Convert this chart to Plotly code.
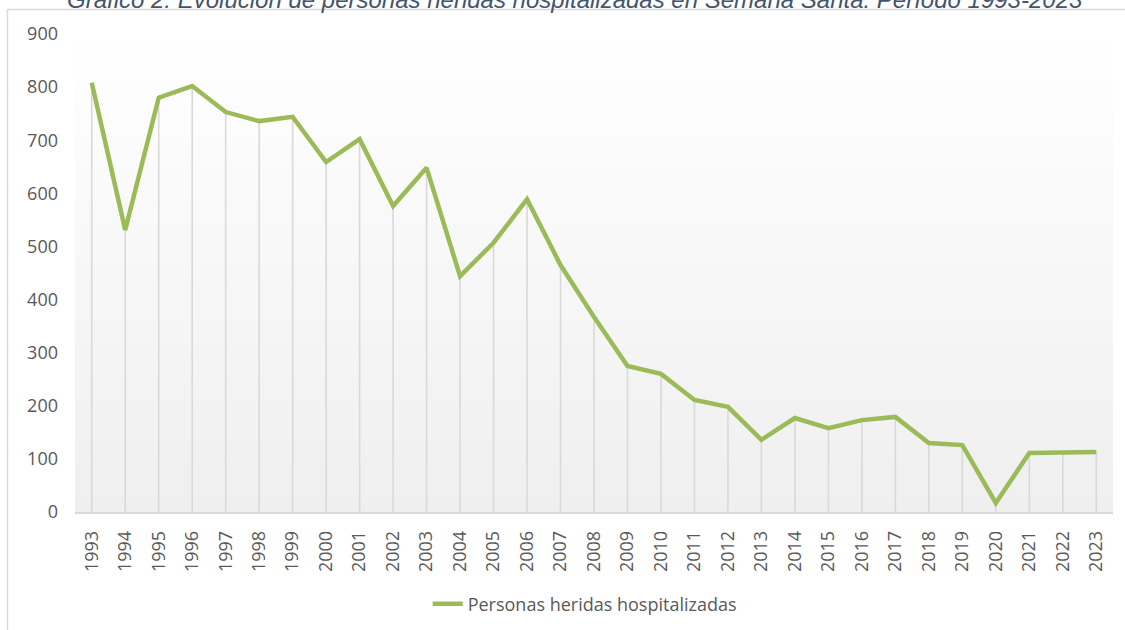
import plotly.graph_objects as go

# ---- data ----
years = [1993, 1994, 1995, 1996, 1997, 1998, 1999, 2000, 2001, 2002,
         2003, 2004, 2005, 2006, 2007, 2008, 2009, 2010, 2011, 2012,
         2013, 2014, 2015, 2016, 2017, 2018, 2019, 2020, 2021, 2022, 2023]
heridos = [808, 531, 780, 802, 753, 736, 744, 659, 702, 576,
           648, 444, 507, 589, 465, 367, 275, 260, 211, 198,
           136, 177, 158, 173, 179, 130, 126, 17, 111, 111, 113]
year_labels = [str(y) for y in years]
y_ticks = [0, 100, 200, 300, 400, 500, 600, 700, 800, 900]
series_name = "Personas heridas hospitalizadas"
title_text = "Gráfico 2: Evolución de personas heridas hospitalizadas en Semana Santa. Período 1993-2023"

# ---- layout geometry ----
W, H = 1125, 630
L, R, T, B = 75, 12, 34, 118
pw, ph = W - L - R, H - T - B

def px_x(px):
    return (px - L) / pw

def px_y(py):
    return (H - B - py) / ph

GREEN = "#9BBB59"
GRID = "#D9D9D9"
TXT = "#595959"

fig = go.Figure()

# drop lines (vertical lines from each point down to the axis)
fig.add_trace(go.Scatter(
    x=years, y=heridos, mode="markers",
    marker=dict(size=1, opacity=0),
    error_y=dict(type="data", symmetric=False,
                 array=[0] * len(heridos), arrayminus=heridos,
                 width=0, thickness=1.6, color=GRID),
    showlegend=False, hoverinfo="skip",
))

# main line
fig.add_trace(go.Scatter(
    x=years, y=heridos, mode="lines", name=series_name,
    line=dict(color=GREEN, width=4.5),
))

shapes = []
# gradient background of plot area (white at top -> light grey at bottom)
nb = 40
top_c, bot_c = (255, 255, 255), (239, 239, 239)
for i in range(nb):
    f0 = i / nb
    f1 = (i + 1) / nb
    fm = (i + 0.5) / nb
    c = tuple(round(top_c[k] + (bot_c[k] - top_c[k]) * fm) for k in range(3))
    shapes.append(dict(
        type="rect", xref="paper", yref="paper",
        x0=0, x1=1, y0=1 - f1, y1=1 - f0 + 0.001,
        fillcolor="rgb(%d,%d,%d)" % c, line=dict(width=0), layer="below",
    ))
# outer chart frame
shapes.append(dict(
    type="rect", xref="paper", yref="paper",
    x0=px_x(7.5), x1=px_x(1140), y0=px_y(645), y1=px_y(9.5),
    line=dict(color=GRID, width=1.5), fillcolor="rgba(0,0,0,0)", layer="above",
))

fig.update_layout(
    width=W, height=H,
    margin=dict(l=L, r=R, t=T, b=B, autoexpand=False),
    paper_bgcolor="white",
    plot_bgcolor="rgba(0,0,0,0)",
    shapes=shapes,
    showlegend=True,
    legend=dict(
        orientation="h", x=0.491, xanchor="center", y=px_y(604), yanchor="middle",
        font=dict(family="Open Sans", size=18, color=TXT),
        bgcolor="rgba(0,0,0,0)",
    ),
    annotations=[dict(
        text="<i>" + title_text + "</i>", xref="paper", yref="paper",
        x=px_x(575), y=1, xanchor="center", yanchor="bottom",
        yshift=T - 15, showarrow=False,
        font=dict(family="Liberation Sans", size=24, color="#44546A"),
    )],
    xaxis=dict(
        range=[years[0] - 0.5, years[-1] + 0.5],
        tickmode="array", tickvals=years, ticktext=year_labels,
        tickangle=-90, ticks="", ticklabelstandoff=10, automargin=False,
        tickfont=dict(family="Open Sans", size=18, color=TXT),
        showgrid=False, zeroline=False,
        showline=True, linecolor=GRID, linewidth=1.5,
    ),
    yaxis=dict(
        range=[0, 900], tickmode="array", tickvals=y_ticks,
        ticks="", ticklabelstandoff=16, automargin=False,
        tickfont=dict(family="Open Sans", size=18, color=TXT),
        showgrid=False, zeroline=False, showline=False,
    ),
)

fig.write_html("out.html", config={"displayModeBar": False},
               post_script="document.body.style.margin='0px';")
